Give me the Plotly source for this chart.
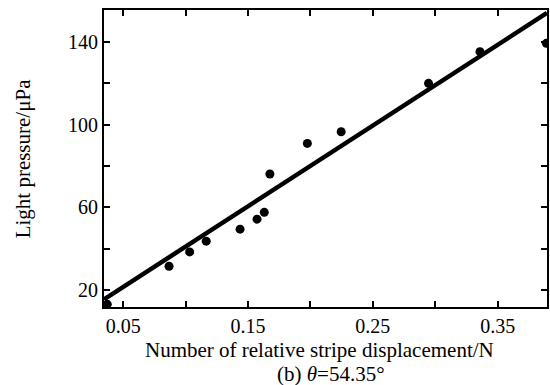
import plotly.graph_objects as go

# Measured points
disp_n = [0.0372, 0.0867, 0.1032, 0.1165, 0.1436, 0.1572, 0.1630, 0.1675,
          0.1975, 0.2246, 0.2946, 0.3358, 0.3890]
pressure_upa = [13.2, 31.6, 38.5, 43.7, 49.5, 54.3, 57.6, 76.1,
                90.9, 96.5, 119.9, 135.2, 139.2]

# Fitted line (end points)
fit_x = [0.0346, 0.3895]
fit_y = [15.6, 153.9]

x_ticks = [0.05, 0.10, 0.15, 0.20, 0.25, 0.30, 0.35]
x_labels = ["0.05", "", "0.15", "", "0.25", "", "0.35"]
y_ticks = [20, 40, 60, 80, 100, 120, 140]
y_labels = ["20", "", "60", "", "100", "", "140"]

FONT = "Liberation Serif, Times New Roman, serif"

fig = go.Figure()
fig.add_trace(go.Scatter(x=fit_x, y=fit_y, mode="lines",
                         line=dict(color="black", width=4.5),
                         showlegend=False, hoverinfo="skip"))
fig.add_trace(go.Scatter(x=disp_n, y=pressure_upa, mode="markers",
                         marker=dict(color="black", size=9),
                         cliponaxis=True, showlegend=False))

axis_common = dict(showline=True, linecolor="black", linewidth=2, mirror="ticks",
                   ticks="inside", ticklen=6, tickwidth=1.5, tickcolor="black",
                   showgrid=False, zeroline=False,
                   tickfont=dict(family=FONT, size=20, color="black"))

fig.update_xaxes(range=[0.0346, 0.3895], tickmode="array", tickvals=x_ticks,
                 ticktext=x_labels, **axis_common)
fig.update_yaxes(range=[11.9, 155.3], tickmode="array", tickvals=y_ticks,
                 ticktext=y_labels, **axis_common)

fig.add_annotation(text="Number of relative stripe displacement/N", xref="paper", yref="paper",
                   x=(320 - 104) / 445, y=(307 - 350) / 297, xanchor="center", yanchor="middle",
                   showarrow=False, font=dict(family=FONT, size=21, color="black"))
fig.add_annotation(text="(b) <i>θ</i>=54.35°", xref="paper", yref="paper",
                   x=(332 - 104) / 445, y=(307 - 373.5) / 297, xanchor="center", yanchor="middle",
                   showarrow=False, font=dict(family=FONT, size=21, color="black"))
fig.add_annotation(text="Light pressure/μPa", xref="paper", yref="paper",
                   x=(23 - 104) / 445, y=(307 - 159) / 297, xanchor="center", yanchor="middle",
                   textangle=-90, showarrow=False, font=dict(family=FONT, size=21, color="black"))

fig.update_layout(width=550, height=385, margin=dict(l=104, r=1, t=10, b=78),
                  paper_bgcolor="white", plot_bgcolor="white")

fig.write_html("out.html")
